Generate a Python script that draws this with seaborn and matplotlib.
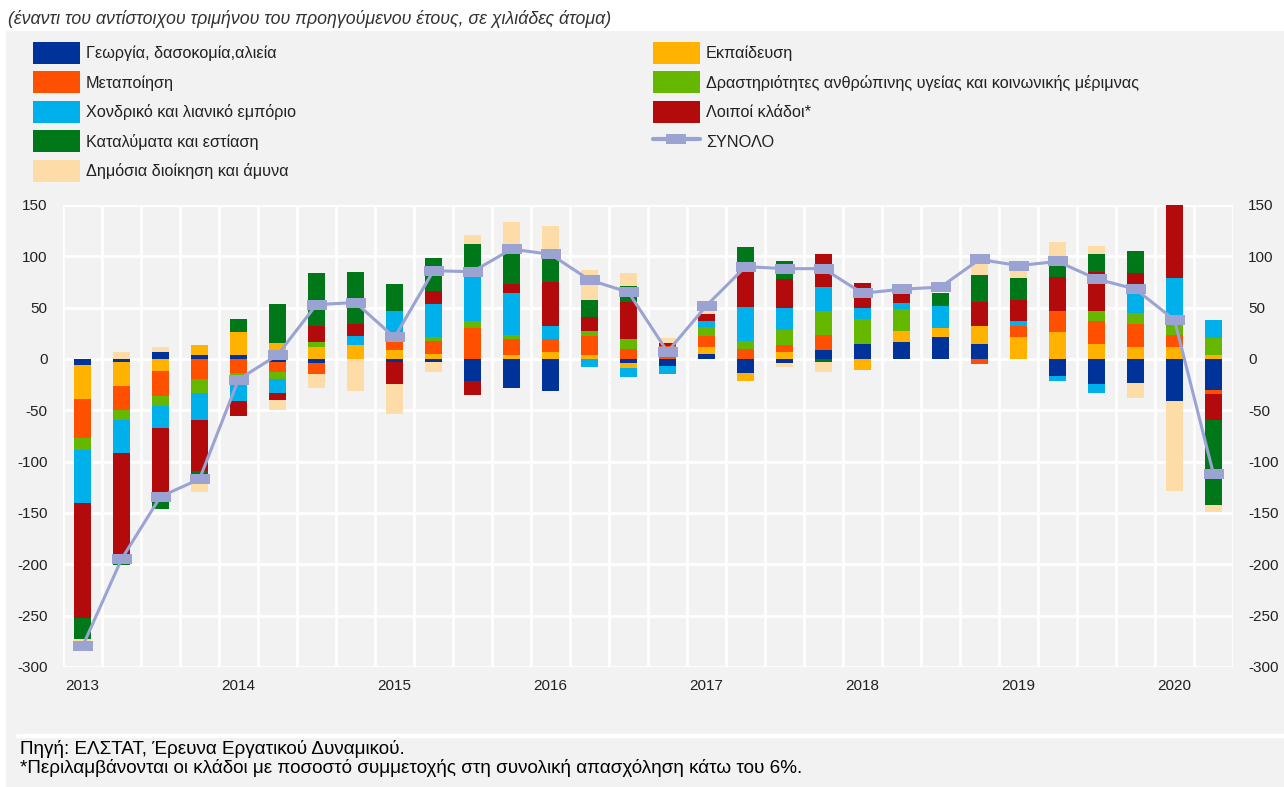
import numpy as np
import matplotlib
matplotlib.use("Agg")
from matplotlib import pyplot as plt
from matplotlib.patches import Rectangle, Patch
from matplotlib.lines import Line2D
import seaborn as sns

# τρίμηνα 2013Q1 - 2020Q2
quarters = [f"{y}Q{q}" for y in range(2013, 2021) for q in range(1, 5)][:30]
year_labels = ['2013', '2014', '2015', '2016', '2017', '2018', '2019', '2020']

# μεταβολές ανά κλάδο (χιλιάδες άτομα)
agriculture = [-6, -3, 7, 4, 4, -3, -4, 0, -3, -3, -21, -28, -31, 0, -4,
               -7, 5, -14, -4, 9, 15, 17, 21, 15, 0, -17, -24, -23, -41, -30]
education = [-33, -23, -12, 10, 22, 16, 12, 14, 9, 5, 0, 4, 7, 4, -5,
             0, 7, -7, 7, 0, -11, 10, 9, 17, 21, 26, 15, 12, 12, 4]
manufacturing = [-38, -24, -24, -19, -14, -10, -11, 0, 8, 13, 30, 15, 12, 18, 10,
                 13, 10, 10, 7, 14, 0, 0, 0, -5, 11, 21, 22, 22, 11, -4]
health = [-12, -9, -10, -14, -3, -6, 5, 0, 0, 3, 7, 4, 0, 5, 9,
          0, 9, 8, 14, 24, 24, 22, 0, 0, 0, 0, 10, 11, 16, 16]
trade = [-51, -33, -21, -26, -24, -14, 0, 8, 30, 33, 43, 41, 13, -8, -9,
         -8, 6, 33, 22, 23, 11, 6, 22, 0, 5, -4, -9, 27, 40, 18]
other = [-112, -107, -72, -50, -15, -7, 15, 12, -21, 12, -14, 9, 43, 14, 37,
         3, 7, 38, 28, 32, 24, 12, 0, 24, 20, 33, 38, 12, 88, -25]
accommodation = [-21, -2, -7, -3, 13, 38, 52, 51, 26, 32, 32, 31, 25, 16, 15,
                 0, 0, 20, 17, -3, 0, 0, 12, 26, 22, 20, 17, 21, 0, -83]
public_admin = [-2, 7, 5, -18, 0, -10, -13, -31, -30, -10, 9, 29, 30, 30, 13,
                4, 7, 0, -4, -10, 0, 0, 0, 18, 11, 14, 8, -15, -88, -7]
total = [-280, -195, -134, -117, -20, 4, 53, 55, 21, 86, 85, 107, 102, 77, 65,
         7, 52, 90, 88, 88, 64, 68, 70, 97, 91, 95, 78, 68, 38, -112]

series = [
    ('Γεωργία, δασοκομία,αλιεία', agriculture, '#003399'),
    ('Εκπαίδευση', education, '#FFB300'),
    ('Μεταποίηση', manufacturing, '#FF5000'),
    ('Δραστηριότητες ανθρώπινης υγείας και κοινωνικής μέριμνας', health, '#66B700'),
    ('Χονδρικό και λιανικό εμπόριο', trade, '#00B0EB'),
    ('Λοιποί κλάδοι*', other, '#B30B0B'),
    ('Καταλύματα και εστίαση', accommodation, '#00781A'),
    ('Δημόσια διοίκηση και άμυνα', public_admin, '#FDDCA8'),
]
total_label = 'ΣΥΝΟΛΟ'
line_color = '#9AA3D2'
bg = '#F2F2F2'
text_color = '#222222'

W, H = 1284, 787

sns.set_theme(style="whitegrid")
plt.rcParams['font.family'] = ['Liberation Sans', 'DejaVu Sans']
plt.rcParams['axes.unicode_minus'] = False

fig = plt.figure(figsize=(W / 100, H / 100), dpi=100, facecolor='white')
# γκρι φόντο
fig.patches.append(Rectangle((6 / W, 0), 1, 1 - 31 / H, transform=fig.transFigure,
                             facecolor=bg, edgecolor='none', zorder=-10))
fig.add_artist(Line2D([18 / W, 1], [1 - 736 / H, 1 - 736 / H], color='white', lw=3,
                      transform=fig.transFigure))

ax = fig.add_axes([63 / W, 1 - 667 / H, (1233 - 63) / W, (667 - 205) / H])
ax.set_facecolor(bg)

x = np.arange(len(quarters))
pos_bottom = np.zeros(len(x))
neg_bottom = np.zeros(len(x))
for name, vals, color in series:
    v = np.array(vals, dtype=float)
    bottom = np.where(v >= 0, pos_bottom, neg_bottom)
    ax.bar(x, v, width=0.44, bottom=bottom, color=color, linewidth=0, zorder=2)
    pos_bottom += np.clip(v, 0, None)
    neg_bottom += np.clip(v, None, 0)

# ορθογώνιος δείκτης
rect_marker = np.array([(-1, -0.5), (1, -0.5), (1, 0.5), (-1, 0.5), (-1, -0.5)])
sns.lineplot(x=x, y=total, ax=ax, color=line_color, linewidth=2.2, marker=rect_marker,
             markersize=14.5, markeredgewidth=0, zorder=3)
ax.set_xlabel('')
ax.set_ylabel('')

# άξονες
ax.set_xlim(-0.5, len(x) - 0.5)
ax.set_ylim(-300, 150)
ax.set_yticks(np.arange(-300, 151, 50))
ax.set_xticks(x[::4])
ax.set_xticklabels(year_labels)
ax.set_xticks(np.arange(-0.5, len(x), 1), minor=True)
ax.set_axisbelow(True)
ax.grid(False)
ax.grid(True, axis='y', which='major', color='white', linewidth=2)
ax.grid(True, axis='x', which='minor', color='white', linewidth=2)
for s in ax.spines.values():
    s.set_visible(False)
ax.tick_params(axis='x', which='major', length=0, pad=9, labelsize=11, labelcolor=text_color)
ax.tick_params(axis='x', which='minor', length=5, width=1.5, color='white', direction='out')
ax.tick_params(axis='y', length=0, labelsize=11, labelcolor=text_color, pad=11,
               labelleft=True, labelright=True)

# υπόμνημα σε δύο στήλες
handles = [Patch(facecolor=c, edgecolor='none') for _, _, c in series]
labels = [n for n, _, _ in series]
total_handle = Line2D([], [], color=line_color, linewidth=3, marker=rect_marker,
                      markersize=14.5, markeredgewidth=0)
left_idx = [0, 2, 4, 6, 7]
right_idx = [1, 3, 5]
leg_kw = dict(loc='upper left', frameon=False, fontsize=11.7, handlelength=2.89,
              handleheight=1.706, labelspacing=0.46, handletextpad=0.37,
              borderaxespad=0, borderpad=0, labelcolor=text_color)
fig.legend([handles[i] for i in left_idx], [labels[i] for i in left_idx],
           bbox_to_anchor=(33 / W, 1 - 42 / H), **leg_kw)
fig.legend([handles[i] for i in right_idx] + [total_handle],
           [labels[i] for i in right_idx] + [total_label],
           bbox_to_anchor=(653 / W, 1 - 42 / H), numpoints=1, **leg_kw)

fig.text(8 / W, 1 - 19 / H,
         '(έναντι του αντίστοιχου τριμήνου του προηγούμενου έτους, σε χιλιάδες άτομα)',
         style='italic', fontsize=12.8, color='#333333', va='center')
fig.text(20 / W, 1 - 749 / H, 'Πηγή: ΕΛΣΤΑΤ, Έρευνα Εργατικού Δυναμικού.',
         fontsize=13.6, color='black', va='center')
fig.text(20 / W, 1 - 768 / H,
         '*Περιλαμβάνονται οι κλάδοι με ποσοστό συμμετοχής στη συνολική απασχόληση κάτω του 6%.',
         fontsize=13.6, color='black', va='center')

fig.savefig('out.png', dpi=100, facecolor=fig.get_facecolor())
